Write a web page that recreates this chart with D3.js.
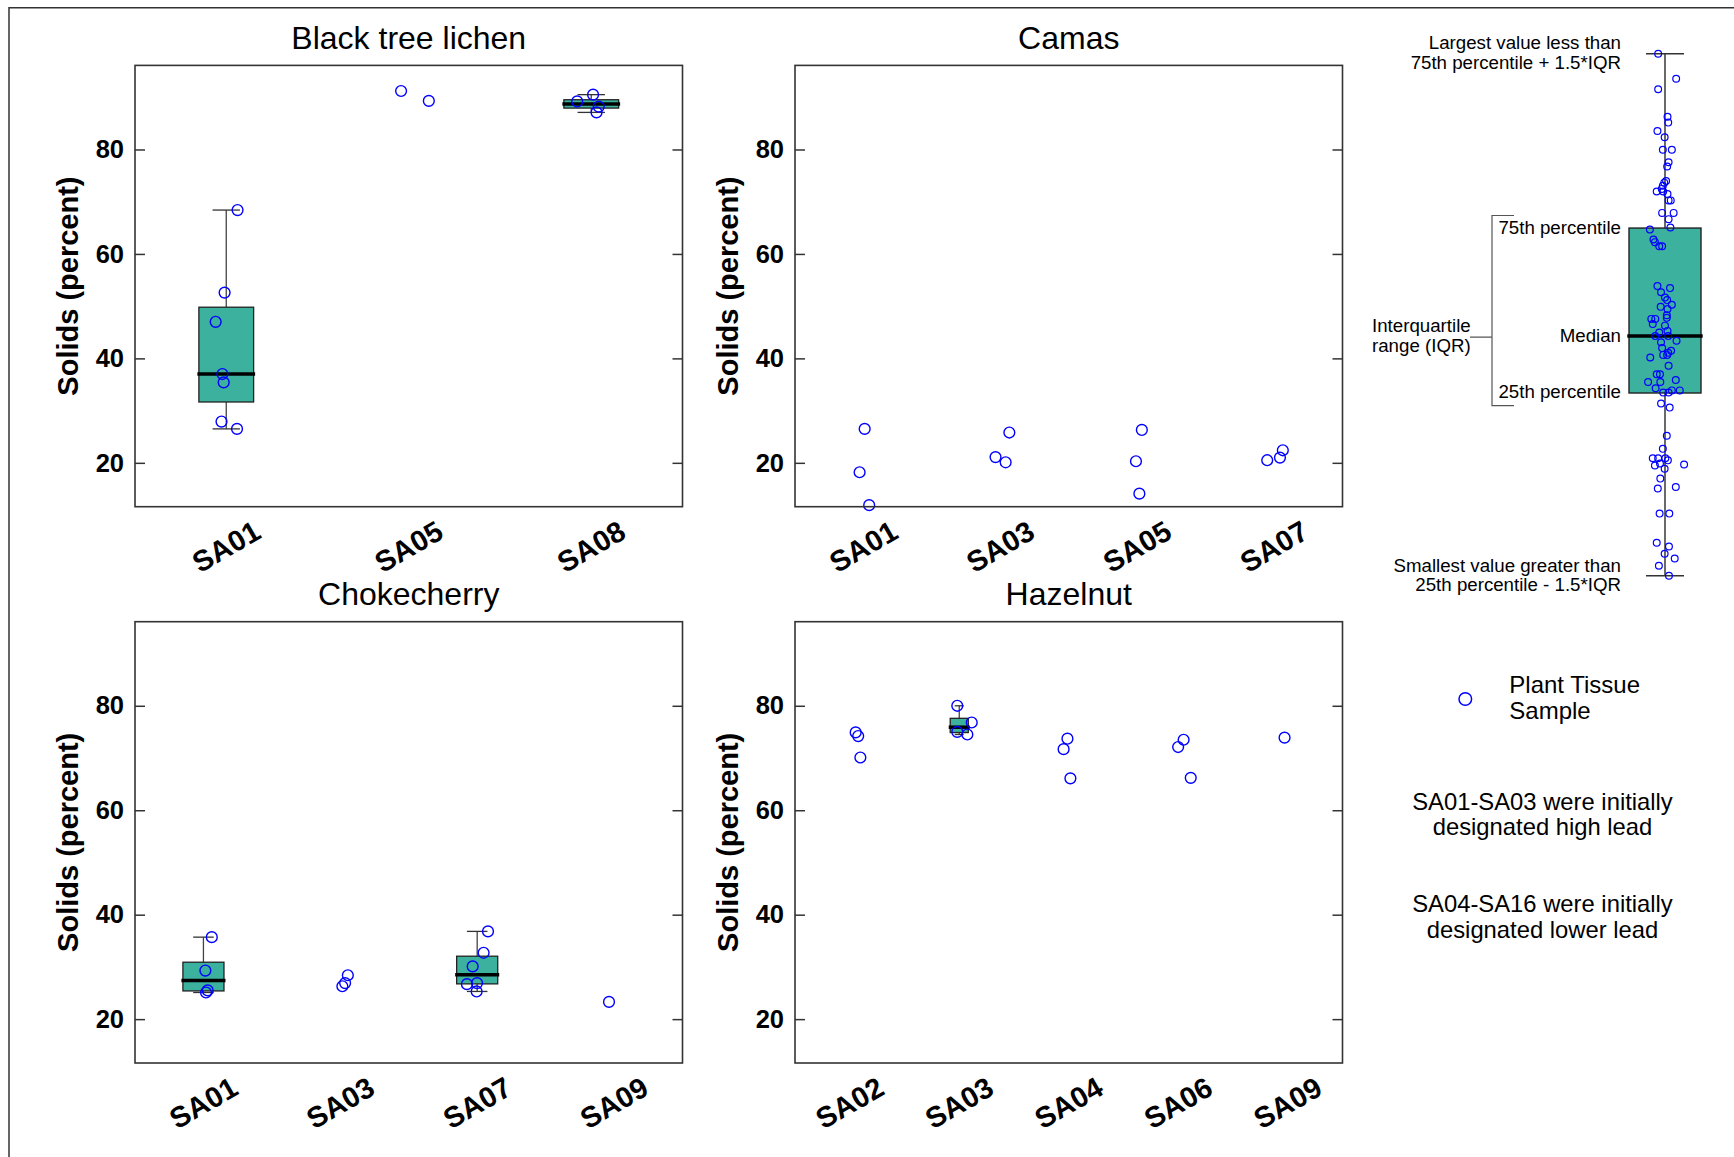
<!DOCTYPE html>
<html>
<head>
<meta charset="utf-8">
<script src="https://cdn.jsdelivr.net/npm/d3@7"></script>
<style>
  body { margin: 0; background: #fff; }
  svg { display: block; }
  text { font-family: "Liberation Sans", Arial, sans-serif; }
</style>
</head>
<body>
<div id="chart"></div>
<script>

// ---- data: [site, solids (percent), jitter (fraction of category step)] ----
var panelNames = ["Black tree lichen", "Camas", "Chokecherry", "Hazelnut"];

var lichenSites = ["SA01", "SA05", "SA08"];
var camasSites = ["SA01", "SA03", "SA05", "SA07"];
var chokeSites = ["SA01", "SA03", "SA07", "SA09"];
var hazelSites = ["SA02", "SA03", "SA04", "SA06", "SA09"];

var lichenSamples = [
    ["SA01", 68.4, 0.062], ["SA01", 52.6, -0.009], ["SA01", 47.0, -0.058], ["SA01", 37.0, -0.021],
    ["SA01", 35.4, -0.014], ["SA01", 27.9, -0.026], ["SA01", 26.5, 0.059],
    ["SA05", 91.2, -0.042], ["SA05", 89.3, 0.110],
    ["SA08", 89.2, -0.077], ["SA08", 90.5, 0.010], ["SA08", 88.2, 0.041], ["SA08", 87.1, 0.029]
];
var camasSamples = [
    ["SA01", 26.5, 0.009], ["SA01", 18.2, -0.028], ["SA01", 11.9, 0.042],
    ["SA03", 21.1, -0.035], ["SA03", 20.1, 0.039], ["SA03", 25.8, 0.066],
    ["SA05", 26.3, 0.034], ["SA05", 20.3, -0.009], ["SA05", 14.1, 0.016],
    ["SA07", 20.5, -0.050], ["SA07", 21.0, 0.043], ["SA07", 22.4, 0.064]
];
var chokeSamples = [
    ["SA01", 35.7, 0.061], ["SA01", 29.3, 0.014], ["SA01", 25.5, 0.031], ["SA01", 25.1, 0.019],
    ["SA03", 28.4, 0.055], ["SA03", 26.9, 0.035], ["SA03", 26.3, 0.015],
    ["SA07", 36.8, 0.079], ["SA07", 32.7, 0.047], ["SA07", 30.1, -0.033], ["SA07", 26.7, -0.075],
    ["SA07", 26.9, -0.001], ["SA07", 25.3, -0.004],
    ["SA09", 23.3, -0.037]
];
var hazelSamples = [
    ["SA02", 74.9, 0.054], ["SA02", 74.2, 0.077], ["SA02", 70.1, 0.097],
    ["SA03", 80.0, -0.018], ["SA03", 76.8, 0.114], ["SA03", 75.0, -0.018], ["SA03", 74.5, 0.074],
    ["SA04", 73.7, -0.012], ["SA04", 71.7, -0.047], ["SA04", 66.1, 0.015],
    ["SA06", 73.5, 0.049], ["SA06", 72.1, -0.001], ["SA06", 66.2, 0.114],
    ["SA09", 73.9, -0.029]
];

var yDomain = [11.6, 96.1];
var yTicks = [20, 40, 60, 80];
var yTitle = "Solids (percent)";

// explanation boxplot (schematic units 0..100)
var schematicStats = [0, 35.0, 45.9, 66.6, 100];
var schematicValues = [100.0, 95.2, 93.2, 87.9, 86.8, 85.2, 84.0, 81.6, 81.6, 79.2, 78.4, 75.6, 75.3, 74.7,
    74.1, 73.6, 73.6, 73.1, 71.9, 71.9, 69.5, 69.5, 68.3, 66.7, 66.3, 64.4, 63.9, 63.1, 63.1, 55.5, 55.1,
    54.3, 53.3, 52.8, 51.9, 51.5, 51.1, 49.9, 49.2, 49.2, 49.4, 48.2, 47.9, 46.6, 46.9, 45.9, 45.9, 45.0,
    44.7, 43.6, 43.1, 42.7, 42.3, 42.3, 41.8, 40.2, 38.6, 38.6, 37.5, 37.1, 37.1, 35.9, 35.1, 35.1, 35.5,
    35.5, 33.0, 32.2, 26.8, 24.3, 22.5, 22.5, 22.5, 22.1, 21.1, 21.5, 20.5, 21.3, 18.6, 16.7, 17.0, 11.9,
    11.9, 6.3, 5.6, 4.2, 3.3, 1.9, 0];
var schematicJitter = [-0.19, 0.31, -0.19, 0.07, 0.09, -0.21, -0.01, -0.06, 0.19, 0.10, 0.06, 0.03, -0.02, -0.06,
    -0.09, -0.23, -0.05, 0.07, 0.10, 0.16, -0.08, 0.24, 0.10, 0.15, -0.42, -0.32, -0.28, -0.16, -0.08, -0.21, 0.14,
    -0.11, 0.00, 0.06, 0.19, -0.12, 0.07, 0.05, -0.38, -0.27, 0.05, -0.34, 0.00, -0.16, 0.07, -0.27, 0.09, 0.32,
    -0.11, -0.08, 0.17, 0.09, -0.05, 0.06, -0.41, 0.10, -0.23, -0.14, 0.30, -0.47, -0.13, -0.26, -0.05, 0.10, 0.19,
    0.41, -0.11, 0.13, 0.05, -0.06, -0.34, -0.19, 0.01, 0.08, -0.28, -0.14, -0.01, 0.53, -0.13, -0.20, 0.30, -0.15,
    0.12, -0.23, 0.11, -0.01, 0.27, -0.17, 0.11];

var legendLabel = ["Plant Tissue", "Sample"];
var noteHigh = ["SA01-SA03 were initially", "designated high lead"];
var noteLow = ["SA04-SA16 were initially", "designated lower lead"];

// ---- layout ----
var W = 1734, H = 1157;
var colX = [135, 795], rowY = [65.4, 621.7];
var pw = 547.5, ph = 441.3;
var boxFrac = [0.3, 0.3, 0.3, 0.165];
var teal = "#3bb19e", blue = "#0000ff";

var panels = [
    {name: panelNames[0], sites: lichenSites, samples: lichenSamples},
    {name: panelNames[1], sites: camasSites, samples: camasSamples},
    {name: panelNames[2], sites: chokeSites, samples: chokeSamples},
    {name: panelNames[3], sites: hazelSites, samples: hazelSamples}
];

var svg = d3.select("#chart").append("svg")
    .attr("width", W)
    .attr("height", H);

// outer frame (left and top edges)
svg.append("path")
    .attr("d", "M9," + H + "V7.7H" + W)
    .attr("fill", "none")
    .attr("stroke", "#333")
    .attr("stroke-width", 1.5);

function boxStats(vals) {
    var v = vals.slice().sort(d3.ascending);
    var q1 = d3.quantile(v, 0.25), med = d3.quantile(v, 0.5), q3 = d3.quantile(v, 0.75);
    var iqr = q3 - q1;
    var lo = d3.min(v.filter(function(d) { return d >= q1 - 1.5 * iqr; }));
    var hi = d3.max(v.filter(function(d) { return d <= q3 + 1.5 * iqr; }));
    return [lo, q1, med, q3, hi];
}

panels.forEach(function(p, i) {
    var g = svg.append("g")
        .attr("transform", "translate(" + colX[i % 2] + "," + rowY[Math.floor(i / 2)] + ")");

    var x = d3.scalePoint().domain(p.sites).range([0, pw]).padding(0.5);
    var y = d3.scaleLinear().domain(yDomain).range([ph, 0]);
    var step = x.step();
    var bw = boxFrac[i] * step;

    // boxes for groups with at least 4 samples
    p.sites.forEach(function(site) {
        var vals = p.samples.filter(function(d) { return d[0] === site; }).map(function(d) { return d[1]; });
        if (vals.length < 4) return;
        var s = boxStats(vals), cx = x(site);
        g.append("line")
            .attr("x1", cx).attr("x2", cx)
            .attr("y1", y(s[4])).attr("y2", y(s[0]))
            .attr("stroke", "#444").attr("stroke-width", 1.3);
        [s[0], s[4]].forEach(function(v) {
            g.append("line")
                .attr("x1", cx - bw / 4).attr("x2", cx + bw / 4)
                .attr("y1", y(v)).attr("y2", y(v))
                .attr("stroke", "#333").attr("stroke-width", 1.3);
        });
        g.append("rect")
            .attr("x", cx - bw / 2).attr("width", bw)
            .attr("y", y(s[3])).attr("height", y(s[1]) - y(s[3]))
            .attr("fill", teal).attr("stroke", "#222").attr("stroke-width", 1.3);
        g.append("line")
            .attr("x1", cx - bw / 2 - 1.5).attr("x2", cx + bw / 2 + 1.5)
            .attr("y1", y(s[2])).attr("y2", y(s[2]))
            .attr("stroke", "#000").attr("stroke-width", 3.5);
    });

    // samples
    g.selectAll("circle.pt")
        .data(p.samples)
        .enter().append("circle")
        .attr("class", "pt")
        .attr("cx", function(d) { return x(d[0]) + d[2] * step; })
        .attr("cy", function(d) { return y(d[1]); })
        .attr("r", 5.4)
        .attr("fill", "none")
        .attr("stroke", blue)
        .attr("stroke-width", 1.4);

    // axes
    var yAxis = g.append("g")
        .call(d3.axisLeft(y).tickValues(yTicks).tickSize(-10).tickPadding(11));
    yAxis.select(".domain").remove();
    yAxis.selectAll("line").attr("stroke", "#333").attr("stroke-width", 1.5);
    yAxis.selectAll("text")
        .attr("fill", "#000")
        .style("font-size", "25.5px")
        .style("font-weight", "bold");

    var yAxisR = g.append("g")
        .attr("transform", "translate(" + pw + ",0)")
        .call(d3.axisRight(y).tickValues(yTicks).tickSize(-10).tickFormat(""));
    yAxisR.select(".domain").remove();
    yAxisR.selectAll("line").attr("stroke", "#333").attr("stroke-width", 1.5);

    g.append("rect")
        .attr("width", pw).attr("height", ph)
        .attr("fill", "none")
        .attr("stroke", "#333")
        .attr("stroke-width", 1.6);

    // x labels
    g.selectAll("text.xlab")
        .data(p.sites)
        .enter().append("text")
        .attr("class", "xlab")
        .attr("transform", function(d) { return "translate(" + x(d) + "," + (ph + 40) + ") rotate(-30)"; })
        .attr("text-anchor", "middle")
        .attr("dominant-baseline", "central")
        .style("font-size", "29px")
        .style("font-weight", "bold")
        .text(function(d) { return d; });

    // y title
    g.append("text")
        .attr("transform", "translate(-67.5," + (ph / 2) + ") rotate(-90)")
        .attr("text-anchor", "middle")
        .attr("dominant-baseline", "central")
        .style("font-size", "29px")
        .style("font-weight", "bold")
        .text(yTitle);

    // panel title
    g.append("text")
        .attr("x", pw / 2)
        .attr("y", -16.4)
        .attr("text-anchor", "middle")
        .style("font-size", "32px")
        .text(p.name);
});

// ---- explanation boxplot ----
var sg = svg.append("g");
var sx = 1665;
var sy = d3.scaleLinear().domain([0, 100]).range([575.7, 53.7]);
var sj = d3.scaleLinear().domain([-1, 1]).range([-36, 36]);

sg.append("line")
    .attr("x1", sx).attr("x2", sx)
    .attr("y1", sy(schematicStats[4])).attr("y2", sy(schematicStats[0]))
    .attr("stroke", "#444").attr("stroke-width", 1.6);
[schematicStats[0], schematicStats[4]].forEach(function(v) {
    sg.append("line")
        .attr("x1", sx - 19).attr("x2", sx + 19)
        .attr("y1", sy(v)).attr("y2", sy(v))
        .attr("stroke", "#333").attr("stroke-width", 1.5);
});
sg.append("rect")
    .attr("x", sx + sj(-1)).attr("width", sj(1) - sj(-1))
    .attr("y", sy(schematicStats[3])).attr("height", sy(schematicStats[1]) - sy(schematicStats[3]))
    .attr("fill", teal).attr("stroke", "#222").attr("stroke-width", 1.4);
sg.append("line")
    .attr("x1", sx + sj(-1) - 1.7).attr("x2", sx + sj(1) + 1.7)
    .attr("y1", sy(schematicStats[2])).attr("y2", sy(schematicStats[2]))
    .attr("stroke", "#000").attr("stroke-width", 3.5);

sg.selectAll("circle")
    .data(schematicValues)
    .enter().append("circle")
    .attr("cx", function(d, i) { return sx + sj(schematicJitter[i]); })
    .attr("cy", function(d) { return sy(d); })
    .attr("r", 3.4)
    .attr("fill", "none")
    .attr("stroke", blue)
    .attr("stroke-width", 1.2);

function label(lines, x, y0, anchor, size, lh) {
    lines.forEach(function(t, k) {
        svg.append("text")
            .attr("x", x)
            .attr("y", y0 + k * lh)
            .attr("text-anchor", anchor)
            .attr("dominant-baseline", "central")
            .style("font-size", size + "px")
            .attr("fill", "#000")
            .text(t);
    });
}

label(["Largest value less than", "75th percentile + 1.5*IQR"], 1621, 42.3, "end", 18.7, 20);
label(["75th percentile"], 1621, 227, "end", 18.7, 20);
label(["Median"], 1621, 335.6, "end", 18.7, 20);
label(["25th percentile"], 1621, 391.5, "end", 18.7, 20);
label(["Smallest value greater than", "25th percentile - 1.5*IQR"], 1621, 565.3, "end", 18.7, 19.5);
label(["Interquartile", "range (IQR)"], 1372, 325.3, "start", 18.7, 20);

// IQR bracket
svg.append("path")
    .attr("d", "M1514," + sy(schematicStats[3] + 2.4) + "H1492V" + sy(schematicStats[1] - 2.4) + "H1514" +
        "M1492," + sy(schematicStats[2] - 0.2) + "H1470")
    .attr("fill", "none")
    .attr("stroke", "#555")
    .attr("stroke-width", 1.2);

// legend
svg.append("circle")
    .attr("cx", 1465.3).attr("cy", 699)
    .attr("r", 6.3)
    .attr("fill", "none")
    .attr("stroke", blue)
    .attr("stroke-width", 1.5);
label(legendLabel, 1509.3, 684.5, "start", 24, 25.7);
label(noteHigh, 1542.5, 801, "middle", 23.8, 25.7);
label(noteLow, 1542.5, 903.3, "middle", 23.8, 25.7);

</script>
</body>
</html>
